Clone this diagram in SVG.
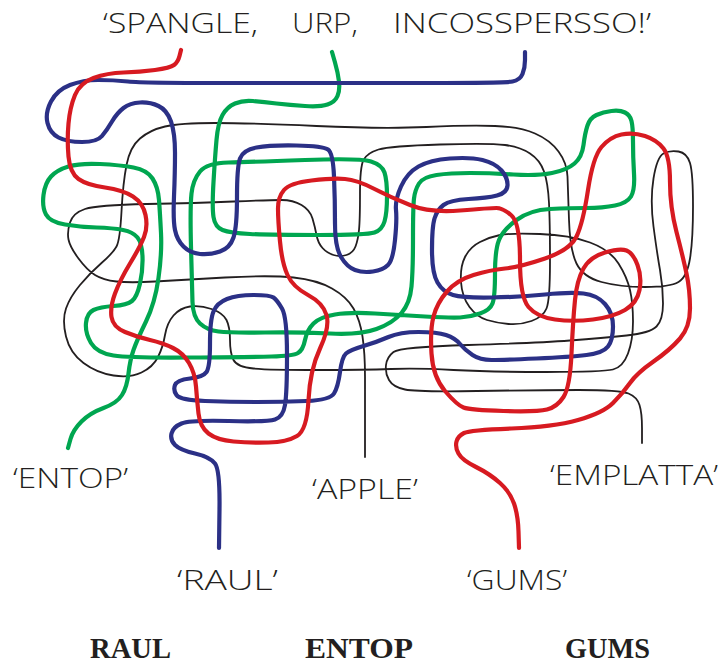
<svg xmlns="http://www.w3.org/2000/svg" width="722" height="670" viewBox="0 0 722 670">
<style>
.ln{fill:none;stroke-linecap:round;stroke-linejoin:round}
.red{stroke:#d71a21;stroke-width:4.2}
.blue{stroke:#2b3086;stroke-width:4.2}
.green{stroke:#00a650;stroke-width:4.2}
.black{stroke:#231f20;stroke-width:1.8}
.hand{font-family:"Open Sans","Liberation Sans",sans-serif;font-weight:300;font-size:27px;fill:#231f20}
.bold{font-family:"Liberation Serif","Times New Roman",serif;font-weight:bold;font-size:29px;fill:#231f20}
</style>
<rect width="722" height="670" fill="#ffffff"/>
<g id="title">
<text class="hand" x="103" y="33" textLength="155" lengthAdjust="spacingAndGlyphs">‘SPANGLE,</text>
<text class="hand" x="292" y="33" textLength="66" lengthAdjust="spacingAndGlyphs">URP,</text>
<text class="hand" x="393" y="33" textLength="258" lengthAdjust="spacingAndGlyphs">INCOSSPERSSO!’</text>
</g>
<g id="connectors">
<path id="line-black" class="ln black" d="M365,457 L365,428.5 Q365,400 365,376.5 Q365,353 362.5,336.5 Q360,320 353.5,308.5 Q347,297 332,288.5 Q317,280 293.5,277.5 Q270,275 225,277.5 Q180,280 155,281.5 Q130,283 116.5,281.5 Q103,280 95,275 Q87,270 78.5,258.5 Q70,247 68.5,239.5 Q67,232 70,222.5 Q73,213 85,209 Q97,205 147,204 Q197,203 233.5,201.5 Q270,200 281.5,200 Q293,200 301.5,205 Q310,210 312.5,218.5 Q315,227 316.5,235 Q318,243 322.5,248 Q327,253 333.5,255 Q340,257 346.5,255 Q353,253 355.5,246.5 Q358,240 359,230 Q360,220 360,193.5 Q360,167 363.5,160 Q367,153 378.5,149.5 Q390,146 440,144.5 Q490,143 505,145 Q520,147 530,153.5 Q540,160 544,171.5 Q548,183 549,203 Q550,223 550,261.5 Q550,300 546.5,308.5 Q543,317 531.5,321 Q520,325 508.5,324 Q497,323 487,320 Q477,317 469.5,307 Q462,297 461,282 Q460,267 465,257 Q470,247 480,242 Q490,237 500,235 Q510,233 540,234 Q570,235 590,242.5 Q610,250 618.5,263.5 Q627,277 630,290 Q633,303 633,321.5 Q633,340 628,353.5 Q623,367 613,369.5 Q603,372 546.5,372 Q490,372 453.5,370 Q417,368 391,369 Q365,370 317.5,370 Q270,370 253.5,368.5 Q237,367 233.5,360 Q230,353 230,340 Q230,327 226.5,320 Q223,313 211.5,309 Q200,305 190,306.5 Q180,308 173.5,315.5 Q167,323 165,335 Q163,347 158,357 Q153,367 141.5,372.5 Q130,378 113.5,375.5 Q97,373 83.5,363 Q70,353 66,336.5 Q62,320 66,308.5 Q70,297 80,285 Q90,273 101.5,263 Q113,253 116.5,246.5 Q120,240 121.5,211.5 Q123,183 126.5,165 Q130,147 140,138.5 Q150,130 165,126.5 Q180,123 215,123 Q250,123 316.5,126 Q383,129 426.5,127 Q470,125 495,126 Q520,127 535,133.5 Q550,140 558.5,151.5 Q567,163 567.5,176.5 Q568,190 569,220 Q570,250 576.5,263.5 Q583,277 601.5,282 Q620,287 645,287 Q670,287 678.5,282 Q687,277 690,258.5 Q693,240 693,206.5 Q693,173 690,163 Q687,153 678.5,151.5 Q670,150 663.5,153.5 Q657,157 653.5,178.5 Q650,200 653.5,226.5 Q657,253 660,270 Q663,287 663,303.5 Q663,320 656.5,326.5 Q650,333 626.5,335.5 Q603,338 570,340.5 Q537,343 468.5,345 Q400,347 393.5,352 Q387,357 386,365 Q385,373 389,380 Q393,387 405,389.5 Q417,392 477,391 Q537,390 578.5,390 Q620,390 628.5,393.5 Q637,397 639.5,405 Q642,413 642,428 L642,443"/>
<path id="line-green" class="ln green" d="M332,52 L335,62.5 Q338,73 339,81.5 Q340,90 337.5,96 Q335,102 327.5,104.5 Q320,107 305,106 Q290,105 276.5,103.5 Q263,102 253,101 Q243,100 235,103.5 Q227,107 222.5,115 Q218,123 216.5,140 Q215,157 213.5,182 Q212,207 213.5,217 Q215,227 222.5,230 Q230,233 250,234 Q270,235 318.5,235 Q367,235 374.5,232.5 Q382,230 384.5,221.5 Q387,213 387,196.5 Q387,180 384.5,172.5 Q382,165 371,161.5 Q360,158 305,160 Q250,162 228.5,162.5 Q207,163 200,171.5 Q193,180 191.5,193.5 Q190,207 191,247 Q192,287 192.5,302 Q193,317 200,323.5 Q207,330 218.5,331.5 Q230,333 265,332.5 Q300,332 330,333.5 Q360,335 376.5,329 Q393,323 401.5,313 Q410,303 411.5,286.5 Q413,270 413,238.5 Q413,207 414,198.5 Q415,190 419,183.5 Q423,177 436.5,175 Q450,173 470,173 Q490,173 513.5,174.5 Q537,176 552,173 Q567,170 574.5,163.5 Q582,157 583.5,145 Q585,133 587.5,125.5 Q590,118 596.5,115 Q603,112 611.5,111 Q620,110 625,112.5 Q630,115 631.5,121 Q633,127 633,142 Q633,157 634,173.5 Q635,190 631,196.5 Q627,203 615,205.5 Q603,208 586.5,208 Q570,208 550,209 Q530,210 516.5,220 Q503,230 499,240 Q495,250 495,273.5 Q495,297 492.5,303.5 Q490,310 480,313.5 Q470,317 460,317.5 Q450,318 425,316.5 Q400,315 375,313.5 Q350,312 335,314.5 Q320,317 313.5,323.5 Q307,330 305,340 Q303,350 298,353 Q293,356 271.5,356.5 Q250,357 190,357.5 Q130,358 113.5,355.5 Q97,353 91,343 Q85,333 86,323 Q87,313 93.5,310 Q100,307 113.5,306 Q127,305 132,301 Q137,297 140,283.5 Q143,270 142.5,256.5 Q142,243 137.5,237.5 Q133,232 123,230 Q113,228 96.5,227.5 Q80,227 65,224.5 Q50,222 46,214.5 Q42,207 43.5,195 Q45,183 51,176.5 Q57,170 68.5,166.5 Q80,163 100,164 Q120,165 133.5,167.5 Q147,170 152.5,178.5 Q158,187 159,200 Q160,213 161,233 Q162,253 158.5,278 Q155,303 146,321.5 Q137,340 133.5,350 Q130,360 128.5,373.5 Q127,387 122,395 Q117,403 103.5,408 Q90,413 81.5,421.5 Q73,430 70.5,439 L68,448"/>
<path id="line-blue" class="ln blue" d="M525,52 L525,60 Q525,68 522.5,74 Q520,80 512.5,81.5 Q505,83 402.5,83 Q300,83 221.5,83 Q143,83 128,81.5 Q113,80 98,80 Q83,80 70,85 Q57,90 51,101.5 Q45,113 47.5,123 Q50,133 58.5,137.5 Q67,142 82,142 Q97,142 102,136 Q107,130 112,121.5 Q117,113 123.5,108 Q130,103 140,102.5 Q150,102 158.5,106 Q167,110 171,121.5 Q175,133 175,153 Q175,173 174,196.5 Q173,220 175,230 Q177,240 183.5,246.5 Q190,253 200,254 Q210,255 220,251.5 Q230,248 233.5,237.5 Q237,227 237,197 Q237,167 240,158.5 Q243,150 256.5,147.5 Q270,145 296.5,145.5 Q323,146 328,149.5 Q333,153 334,176.5 Q335,200 335,223.5 Q335,247 341,257 Q347,267 355,270 Q363,273 373,271.5 Q383,270 388,265 Q393,260 395,240 Q397,220 396,210 Q395,200 401,186.5 Q407,173 418.5,166.5 Q430,160 450,158.5 Q470,157 482.5,160 Q495,163 501.5,170.5 Q508,178 507.5,185.5 Q507,193 497,195.5 Q487,198 468.5,199 Q450,200 443.5,205 Q437,210 434.5,218.5 Q432,227 432,250 Q432,273 437.5,282.5 Q443,292 453,295 Q463,298 491.5,297.5 Q520,297 545,294.5 Q570,292 583.5,293.5 Q597,295 605,304 Q613,313 613,326.5 Q613,340 608,346.5 Q603,353 586.5,355 Q570,357 536.5,358.5 Q503,360 491.5,360 Q480,360 472.5,355 Q465,350 460,344 Q455,338 446,335 Q437,332 418.5,332 Q400,332 388.5,337 Q377,342 363.5,346 Q350,350 346,353.5 Q342,357 340,372 Q338,387 334,393.5 Q330,400 306.5,401 Q283,402 256.5,402 Q230,402 205,401 Q180,400 176.5,395 Q173,390 175,385 Q177,380 190,378.5 Q203,377 206.5,372 Q210,367 210,343.5 Q210,320 213.5,311.5 Q217,303 227,299 Q237,295 253.5,295 Q270,295 273.5,297.5 Q277,300 282,308.5 Q287,317 287,355 Q287,393 285,405 Q283,417 275,419.5 Q267,422 228.5,421 Q190,420 181.5,423.5 Q173,427 171.5,433.5 Q170,440 175,445 Q180,450 195,453.5 Q210,457 215,463.5 Q220,470 219.5,509 L219,548"/>
<path id="line-red" class="ln red" d="M181,50 L179.5,56 Q178,62 174,65 Q170,68 155,70 Q140,72 123.5,72.5 Q107,73 93.5,78 Q80,83 75,95 Q70,107 68.5,123.5 Q67,140 68.5,156.5 Q70,173 78.5,179 Q87,185 105,187.5 Q123,190 133,196.5 Q143,203 145.5,215 Q148,227 144,237 Q140,247 130,263.5 Q120,280 115,293.5 Q110,307 111.5,317 Q113,327 125,332 Q137,337 150,340 Q163,343 173,348 Q183,353 189,363 Q195,373 196,386.5 Q197,400 198.5,413.5 Q200,427 208.5,433.5 Q217,440 233.5,441.5 Q250,443 268.5,442.5 Q287,442 297,436 Q307,430 308.5,400 Q310,370 320,348.5 Q330,327 326.5,315 Q323,303 308,295 Q293,287 287.5,275 Q282,263 280,241.5 Q278,220 278,208.5 Q278,197 284,190 Q290,183 311.5,180.5 Q333,178 345,179 Q357,180 373.5,188.5 Q390,197 410,205 Q430,213 460,210.5 Q490,208 496.5,208 Q503,208 511.5,215.5 Q520,223 520,260 Q520,297 528.5,307 Q537,317 555,319.5 Q573,322 593,319.5 Q613,317 625,310 Q637,303 639.5,290 Q642,277 637.5,265 Q633,253 626.5,250.5 Q620,248 605,252.5 Q590,257 583.5,268.5 Q577,280 575,300 Q573,320 571.5,353.5 Q570,387 563.5,397 Q557,407 547,409.5 Q537,412 503.5,411 Q470,410 463.5,407.5 Q457,405 445,391 Q433,377 431.5,353.5 Q430,330 433.5,316.5 Q437,303 447,291.5 Q457,280 473.5,275 Q490,270 505,268.5 Q520,267 545,258.5 Q570,250 576.5,236.5 Q583,223 588,190 Q593,157 601.5,147 Q610,137 621.5,134.5 Q633,132 645,136 Q657,140 663.5,148.5 Q670,157 670,182 Q670,207 676.5,232 Q683,257 686.5,273.5 Q690,290 690,308.5 Q690,327 680,338.5 Q670,350 653.5,361.5 Q637,373 630,383 Q623,393 613,403 Q603,413 578,420 Q553,427 511.5,428.5 Q470,430 464,433 Q458,436 456.5,441.5 Q455,447 458.5,453.5 Q462,460 476,467 Q490,474 500,483 Q510,492 514,503.5 Q518,515 518.5,531.5 L519,548"/>
</g>
<g id="label-entop"><text class="hand" x="13" y="488" textLength="115" lengthAdjust="spacingAndGlyphs">‘ENTOP’</text></g>
<g id="label-apple"><text class="hand" x="312" y="499" textLength="106" lengthAdjust="spacingAndGlyphs">‘APPLE’</text></g>
<g id="label-emplatta"><text class="hand" x="550" y="485" textLength="168" lengthAdjust="spacingAndGlyphs">‘EMPLATTA’</text></g>
<g id="label-raul"><text class="hand" x="177" y="590" textLength="101" lengthAdjust="spacingAndGlyphs">‘RAUL’</text></g>
<g id="label-gums"><text class="hand" x="467" y="590" textLength="100" lengthAdjust="spacingAndGlyphs">‘GUMS’</text></g>
<g id="answer-raul"><text class="bold" x="90" y="658" textLength="81" lengthAdjust="spacingAndGlyphs">RAUL</text></g>
<g id="answer-entop"><text class="bold" x="305" y="658" textLength="108" lengthAdjust="spacingAndGlyphs">ENTOP</text></g>
<g id="answer-gums"><text class="bold" x="565" y="658" textLength="85" lengthAdjust="spacingAndGlyphs">GUMS</text></g>
</svg>
